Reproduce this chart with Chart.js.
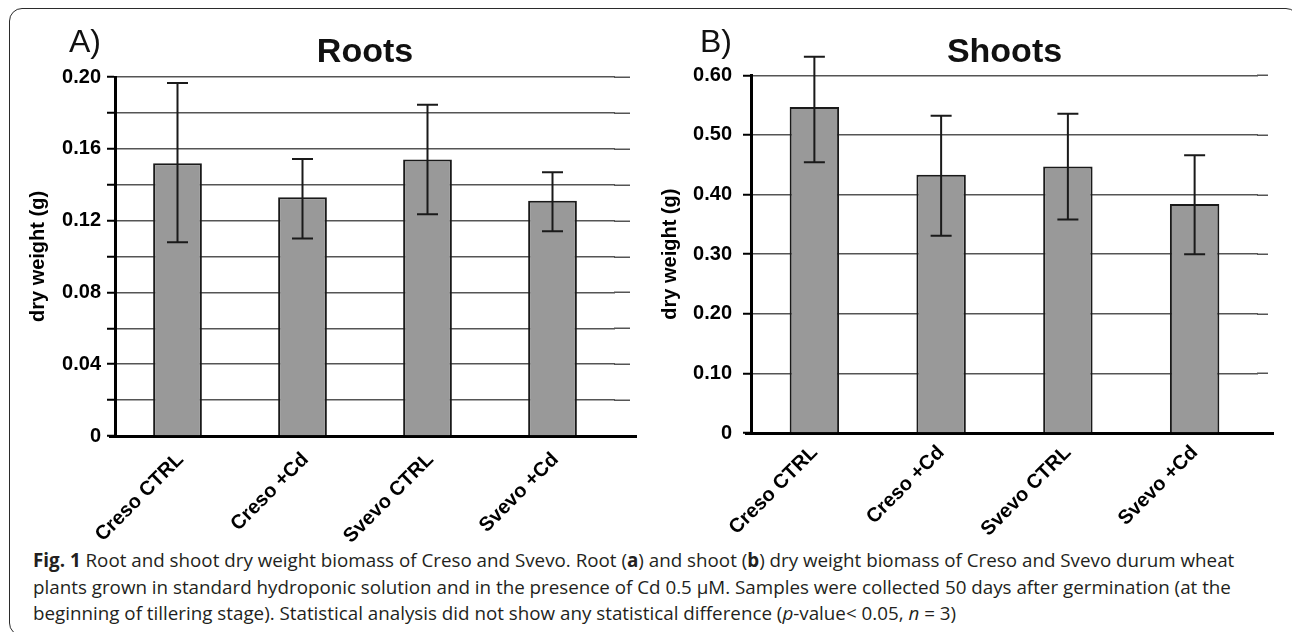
<!DOCTYPE html>
<html lang="en">
<head>
  <meta charset="UTF-8" />
  <title>Root and shoot dry weight biomass</title>
  <script src="https://cdn.jsdelivr.net/npm/chart.js"></script>
  <style>
    body {
      margin: 0;
      background: #fff;
      width: 1292px;
      height: 632px;
      overflow: hidden;
      position: relative;
      font-family: 'Liberation Sans', Arial, sans-serif;
    }
    .frame {
      position: absolute;
      left: 9px;
      top: 8px;
      width: 1290px;
      height: 628px;
      border: 1.5px solid #2b2b2b;
      border-radius: 13px;
      box-sizing: border-box;
    }
    canvas { position: absolute; top: 0; }
    #roots { left: 0; }
    #shoots { left: 640px; }
    .letter {
      position: absolute;
      top: 25px;
      font-size: 32px;
      line-height: 1;
      color: #111;
    }
    .caption {
      position: absolute;
      left: 33px;
      top: 547px;
      font-family: 'Open Sans', sans-serif;
      font-size: 18.8px;
      line-height: 26.7px;
      color: #231f20;
      white-space: nowrap;
    }
  </style>
</head>
<body>
  <div class="frame"></div>
  <canvas id="roots" width="640" height="546"></canvas>
  <canvas id="shoots" width="652" height="546"></canvas>
  <div class="letter" style="left:69px">A)</div>
  <div class="letter" style="left:700px">B)</div>
  <div class="caption">
    <b>Fig. 1</b> Root and shoot dry weight biomass of Creso and Svevo. Root (<b>a</b>) and shoot (<b>b</b>) dry weight biomass of Creso and Svevo durum wheat<br>
    plants grown in standard hydroponic solution and in the presence of Cd 0.5 μM. Samples were collected 50 days after germination (at the<br>
    beginning of tillering stage). Statistical analysis did not show any statistical difference (<i>p</i>-value&lt; 0.05, <i>n</i> = 3)
  </div>

  <script>
    const categories = ["Creso CTRL", "Creso +Cd", "Svevo CTRL", "Svevo +Cd"];

    const rootValues = [0.152, 0.133, 0.154, 0.131];
    const rootLow = [0.108, 0.110, 0.1235, 0.114];
    const rootHigh = [0.1967, 0.1543, 0.1846, 0.1469];
    const rootTicks = ["0", "", "0.04", "", "0.08", "", "0.12", "", "0.16", "", "0.20"];

    const shootValues = [0.547, 0.433, 0.447, 0.384];
    const shootLow = [0.454, 0.331, 0.358, 0.300];
    const shootHigh = [0.631, 0.532, 0.5355, 0.466];
    const shootTicks = ["0", "0.10", "0.20", "0.30", "0.40", "0.50", "0.60"];

    const fontFamily = "'Liberation Sans', Arial, sans-serif";
    const gridColor = '#555';

    // whiskers drawn from the y scale of each chart
    const errorBars = {
      id: 'errorBars',
      afterDatasetsDraw(chart, args, opts) {
        const ctx = chart.ctx;
        const y = chart.scales.y;
        const meta = chart.getDatasetMeta(0);
        ctx.save();
        ctx.strokeStyle = '#1a1a1a';
        ctx.lineWidth = 2;
        meta.data.forEach((bar, i) => {
          const top = y.getPixelForValue(opts.high[i]);
          const bot = y.getPixelForValue(opts.low[i]);
          const cx = bar.x;
          ctx.beginPath();
          ctx.moveTo(cx, top); ctx.lineTo(cx, bot);
          ctx.moveTo(cx - 10.5, top); ctx.lineTo(cx + 10.5, top);
          ctx.moveTo(cx - 10.5, bot); ctx.lineTo(cx + 10.5, bot);
          ctx.stroke();
        });
        ctx.restore();
      }
    };

    // the excel-style grid runs a little past the last category
    const extendGrid = {
      id: 'extendGrid',
      beforeDatasetsDraw(chart, args, opts) {
        const ctx = chart.ctx;
        const area = chart.chartArea;
        const y = chart.scales.y;
        ctx.save();
        ctx.strokeStyle = gridColor;
        ctx.lineWidth = 1.5;
        y.ticks.forEach(t => {
          const py = Math.round(y.getPixelForValue(t.value)) + 0.25;
          ctx.beginPath();
          ctx.moveTo(area.right - 1, py);
          ctx.lineTo(area.right + opts.grid, py);
          ctx.stroke();
        });
        ctx.strokeStyle = '#000';
        ctx.lineWidth = 3;
        const p0 = Math.round(y.getPixelForValue(0) - 1.5) + 1.5;
        ctx.beginPath();
        ctx.moveTo(area.right - 1, p0);
        ctx.lineTo(area.right + opts.axis, p0);
        ctx.moveTo(area.left - 6, p0);
        ctx.lineTo(area.left + 1, p0);
        ctx.stroke();
        ctx.restore();
      }
    };

    function makeChart(id, title, values, low, high, tickLabels, max, step, cfg) {
      return new Chart(document.getElementById(id), {
        type: 'bar',
        data: {
          labels: categories,
          datasets: [{
            data: values,
            backgroundColor: '#999999',
            borderColor: '#1a1a1a',
            borderWidth: 2,
            categoryPercentage: 1,
            barPercentage: 0.39
          }]
        },
        options: {
          responsive: false,
          animation: false,
          layout: { padding: { left: cfg.left, right: cfg.right, top: 0, bottom: 0 } },
          plugins: {
            legend: { display: false },
            tooltip: { enabled: false },
            title: {
              display: true,
              fullSize: false,
              text: title,
              color: '#111',
              font: { family: fontFamily, size: 34, weight: 'bold' },
              padding: { top: 32.6, bottom: cfg.titleBottom }
            },
            errorBars: { low: low, high: high },
            extendGrid: { grid: cfg.gridExtra, axis: cfg.axisExtra }
          },
          scales: {
            x: {
              grid: { display: false },
              border: { color: '#000', width: 3 },
              ticks: {
                minRotation: 45,
                maxRotation: 45,
                color: '#000',
                padding: cfg.labelPad,
                labelOffset: cfg.labelOffset,
                font: { family: fontFamily, size: 20, weight: 'bold' }
              },
              afterFit: s => { s.height = 546 - cfg.bottom; }
            },
            y: {
              min: 0,
              max: max,
              ticks: {
                stepSize: step,
                color: '#000',
                padding: cfg.tickPad,
                font: { family: fontFamily, size: 20, weight: 'bold' },
                callback: (v, i) => tickLabels[i]
              },
              grid: {
                color: gridColor,
                lineWidth: 1.5,
                tickLength: 8,
                tickColor: '#000',
                tickWidth: 2
              },
              border: { color: '#000', width: 3 },
              title: {
                display: true,
                text: 'dry weight (g)',
                color: '#000',
                font: { family: fontFamily, size: 20, weight: 'bold' },
                padding: { top: cfg.titlePad, bottom: 0 }
              },
              afterFit: s => { s.width = cfg.axisX - cfg.left; }
            }
          }
        },
        plugins: [errorBars, extendGrid]
      });
    }

    makeChart('roots', 'Roots', rootValues, rootLow, rootHigh, rootTicks, 0.20, 0.02, {
      left: 20, axisX: 115, right: 640 - 615, bottom: 436, titleBottom: 3.6,
      tickPad: 6, titlePad: 6.5, labelPad: 4, labelOffset: 3, gridExtra: 15, axisExtra: 22
    });
    makeChart('shoots', 'Shoots', shootValues, shootLow, shootHigh, shootTicks, 0.60, 0.10, {
      left: 14, axisX: 111, right: 652 - 618, bottom: 433, titleBottom: 1.9,
      tickPad: 11, titlePad: 4.5, labelPad: 0, labelOffset: 0, gridExtra: 10, axisExtra: 16
    });
  </script>
</body>
</html>
